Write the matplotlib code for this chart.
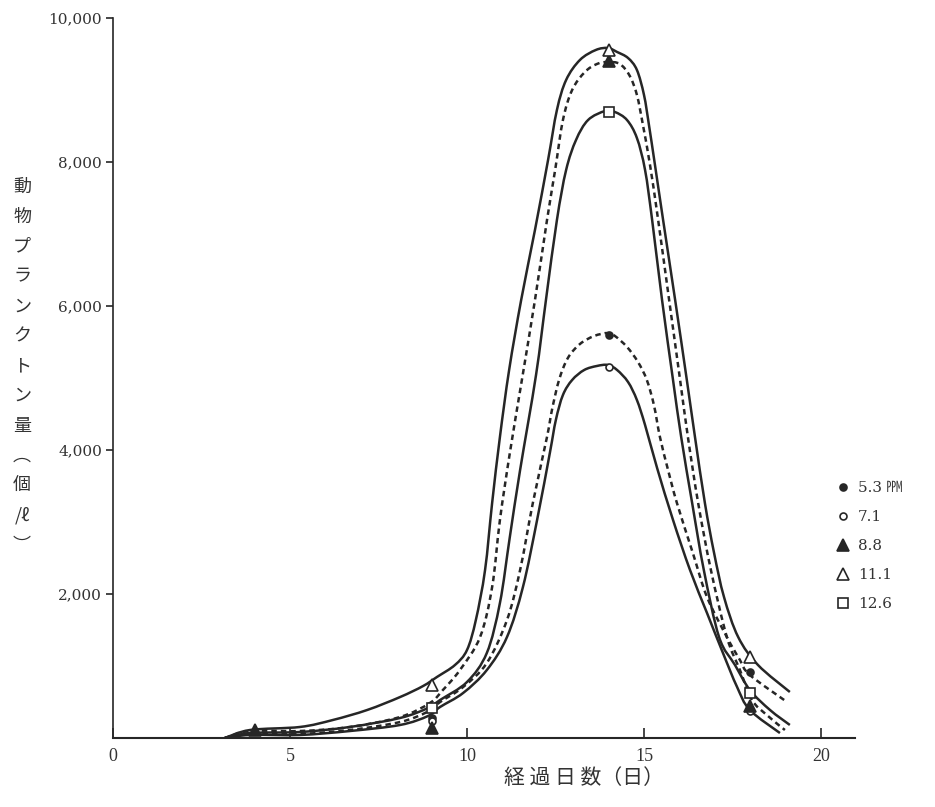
import numpy as np
import matplotlib
matplotlib.use('Agg')
import matplotlib.pyplot as plt
from matplotlib.path import Path
from matplotlib.patches import PathPatch

plt.rcParams['font.family'] = ['Noto Sans CJK JP', 'DejaVu Sans']

INK = '#262626'
TXT = '#333333'

# sampled days and zooplankton counts per litre for each concentration
DAYS = [4, 9, 14, 18]
count_53 = [np.nan, 280, 5600, 920]
count_71 = [np.nan, 230, 5150, 380]
count_88 = [110, 140, 9400, 450]
count_111 = [np.nan, 730, 9560, 1120]
count_126 = [np.nan, 420, 8700, 630]
LABELS = ['5.3 ㏙', '7.1', '8.8', '11.1', '12.6']

# hand drawn fit curves
curve_111_x = [3.16, 3.87, 5.28, 6.21, 7.18, 8.11, 8.76, 9.15, 9.66, 10.0, 10.25, 10.51, 10.71, 10.93,
               11.19, 11.53, 11.92, 12.29, 12.54, 12.8, 13.19, 13.64, 13.98, 14.24, 14.55, 14.8,
               15.0, 15.14, 15.31, 15.54, 15.88, 16.21, 16.44, 16.72, 16.98, 17.26, 17.66, 18.22, 19.12]
curve_111_y = [0, 111, 153, 250, 389, 569, 722, 847, 1014, 1222, 1639, 2333, 3264, 4181,
               5111, 6083, 7056, 8028, 8722, 9139, 9417, 9556, 9583, 9528, 9444, 9278,
               8931, 8514, 7958, 7194, 6083, 4972, 4181, 3264, 2569, 1958, 1403, 1014, 639]

curve_88_x = [3.16, 3.87, 5.28, 6.69, 8.11, 8.95, 9.32, 9.8, 10.37, 10.71, 10.93, 11.21, 11.55, 11.92,
              12.26, 12.49, 12.71, 12.97, 13.33, 13.67, 13.98, 14.32, 14.6, 14.8, 14.97, 15.17, 15.4,
              15.71, 16.02, 16.24, 16.53, 16.89, 17.34, 17.71, 18.05, 18.47, 18.98]
curve_88_y = [0, 97, 97, 153, 292, 486, 667, 944, 1403, 2097, 3028, 3958, 4972, 6083,
              7194, 7889, 8583, 9000, 9250, 9361, 9389, 9361, 9194, 8931, 8514, 7958, 7194,
              6083, 4972, 4181, 3264, 2333, 1403, 944, 528, 319, 111]

curve_126_x = [3.16, 3.87, 5.28, 6.69, 8.11, 8.9, 9.24, 10.0, 10.56, 10.93, 11.21, 11.5, 11.95, 12.23,
               12.54, 12.8, 13.08, 13.42, 13.9, 14.18, 14.52, 14.8, 15.03, 15.23, 15.51, 15.82, 16.05,
               16.36, 16.69, 17.12, 17.57, 17.99, 18.56, 19.12]
curve_126_y = [0, 69, 83, 153, 278, 417, 528, 778, 1181, 1875, 2792, 3722, 5042, 6083,
               7194, 7889, 8306, 8583, 8708, 8694, 8583, 8333, 7889, 7194, 6083, 4972, 4181,
               3264, 2333, 1403, 1014, 667, 389, 181]

curve_53_x = [3.16, 3.87, 5.28, 6.69, 8.11, 8.87, 9.24, 9.89, 10.56, 11.13, 11.5, 11.86, 12.26, 12.4,
              12.6, 12.85, 13.19, 13.59, 13.98, 14.18, 14.52, 14.83, 15.08, 15.28, 15.45, 15.68, 15.93,
              16.38, 16.78, 17.34, 17.71, 17.99, 19.04]
curve_53_y = [0, 56, 56, 111, 222, 361, 500, 708, 1042, 1639, 2333, 3264, 4181, 4556,
              4972, 5278, 5472, 5583, 5625, 5583, 5431, 5222, 4972, 4625, 4181, 3722, 3264,
              2569, 1958, 1403, 1083, 875, 500]

curve_71_x = [3.16, 3.87, 5.28, 6.69, 8.11, 8.9, 9.24, 9.89, 10.56, 11.13, 11.58, 11.98, 12.34, 12.51,
              12.71, 12.97, 13.31, 13.67, 13.98, 14.24, 14.55, 14.8, 15.03, 15.37, 15.82, 16.3, 16.78,
              17.23, 17.63, 17.99, 18.84]
curve_71_y = [0, 42, 42, 97, 181, 306, 431, 625, 944, 1403, 2097, 3028, 3958, 4417,
              4764, 4972, 5111, 5167, 5181, 5111, 4944, 4694, 4347, 3750, 3028, 2333, 1736,
              1181, 708, 389, 69]


def french_curve(xs, ys):
    # draw the traced knots as a smooth bezier path, like a french curve would
    p = np.column_stack([xs, ys]).astype(float)
    n = len(p)
    verts = [p[0]]
    codes = [Path.MOVETO]
    for i in range(n - 1):
        p0 = p[i - 1] if i > 0 else p[i]
        p3 = p[i + 2] if i + 2 < n else p[i + 1]
        verts += [p[i] + (p[i + 1] - p0) / 6, p[i + 1] - (p3 - p[i]) / 6, p[i + 1]]
        codes += [Path.CURVE4] * 3
    return Path(verts, codes)


fig = plt.figure(figsize=(9.35, 8.07), dpi=100)
ax = fig.add_axes([113 / 935, 69 / 807, 742 / 935, 720 / 807])

curves = [(curve_111_x, curve_111_y, 'solid'),
          (curve_126_x, curve_126_y, 'solid'),
          (curve_71_x, curve_71_y, 'solid'),
          (curve_88_x, curve_88_y, (0, (2.2, 1.6))),
          (curve_53_x, curve_53_y, (0, (2.2, 1.6)))]
for cx, cy, ls in curves:
    ax.add_patch(PathPatch(french_curve(cx, cy), fill=False, edgecolor=INK, lw=1.8,
                           linestyle=ls, capstyle='butt', zorder=2))

mk = dict(linestyle='none', markeredgecolor=INK, markeredgewidth=1.2, zorder=3)
ax.plot(DAYS, count_53, marker='o', ms=5, markerfacecolor=INK, label=LABELS[0], **mk)
ax.plot(DAYS, count_71, marker='o', ms=5, markerfacecolor='white', label=LABELS[1], **mk)
ax.plot(DAYS, count_88, marker='^', ms=8, markerfacecolor=INK, label=LABELS[2], **mk)
ax.plot(DAYS, count_111, marker='^', ms=9, markerfacecolor='white', label=LABELS[3], **mk)
ax.plot(DAYS, count_126, marker='s', ms=7, markerfacecolor='white', label=LABELS[4], **mk)

ax.set_xlim(0, 742 / 35.4)
ax.set_ylim(0, 10000)
ax.spines['top'].set_visible(False)
ax.spines['right'].set_visible(False)
ax.spines['left'].set_linewidth(1.2)
ax.spines['bottom'].set_linewidth(1.5)
ax.spines['left'].set_color(INK)
ax.spines['bottom'].set_color(INK)

ax.set_xticks([0, 5, 10, 15, 20])
ax.set_xticklabels(['0', '5', '10', '15', '20'], family='Liberation Serif', fontsize=13, color=TXT)
ax.set_yticks([2000, 4000, 6000, 8000, 10000])
ax.set_yticklabels(['2,000', '4,000', '6,000', '8,000', '10,000'], family='DejaVu Serif',
                   fontsize=11, color=TXT)
ax.tick_params(axis='x', direction='in', length=7, width=1.2, pad=7, colors=INK)
ax.tick_params(axis='y', direction='out', length=5, width=1.2, pad=3, colors=INK)
for t in ax.get_xticklabels() + ax.get_yticklabels():
    t.set_color(TXT)

ax.text(13.3, -40 / 720, '経 過 日 数（日）', transform=ax.get_xaxis_transform(),
        ha='center', va='center', fontsize=15, color=TXT)

ylab = ['動', '物', 'プ', 'ラ', 'ン', 'ク', 'ト', 'ン', '量', '︵', '個', '/ℓ', '︶']
fig.text(22 / 935, 1 - 366 / 807, '\n'.join(ylab), ha='center', va='center',
         fontsize=13, linespacing=1.85, color=TXT)

fig.legend(loc='center left', bbox_to_anchor=(828 / 935, 1 - 546 / 807), frameon=False,
           handlelength=1.0, handletextpad=0.45, labelspacing=0.98, borderpad=0,
           prop={'family': ['DejaVu Serif', 'Noto Sans CJK JP'], 'size': 11}, labelcolor=TXT)

fig.savefig('out.png', dpi=100, facecolor='white')
